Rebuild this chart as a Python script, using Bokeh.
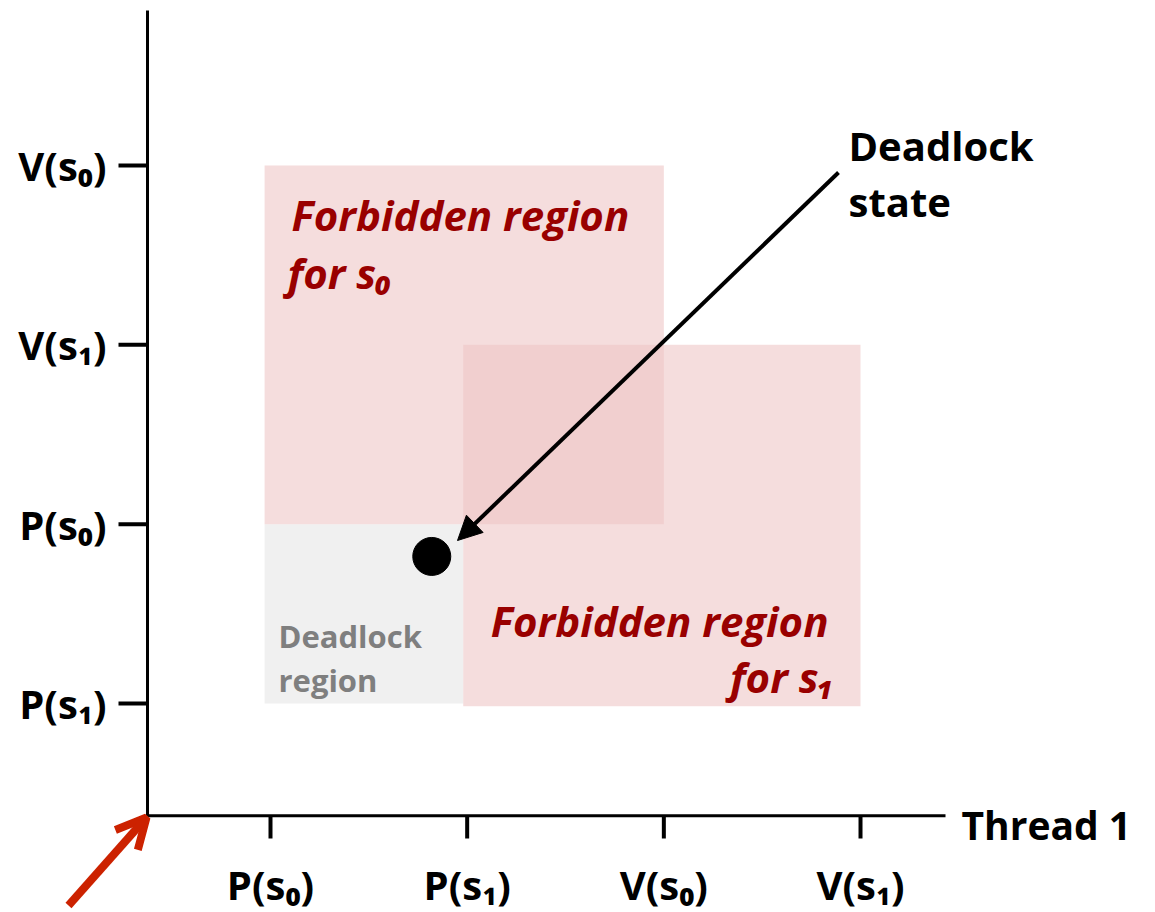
from bokeh.plotting import figure
from bokeh.models import Range1d, Arrow, NormalHead, OpenHead
from bokeh.core.properties import value
from bokeh.embed import file_html
from bokeh.resources import INLINE

# ---------------- data ----------------
x_ticks = [1, 2, 3, 4]
x_labels = ["P(s₀)", "P(s₁)", "V(s₀)", "V(s₁)"]
y_ticks = [1, 2, 3, 4]
y_labels = ["P(s₁)", "P(s₀)", "V(s₁)", "V(s₀)"]

region_left = [0.97, 1.98]
region_right = [3.0, 4.0]
region_bottom = [2.0, 0.985]
region_top = [4.0, 3.0]

deadlock_left = [0.97]
deadlock_right = [1.98]
deadlock_bottom = [1.0]
deadlock_top = [2.0]

deadlock_state_x = [1.82]
deadlock_state_y = [1.82]

# ---------------- layout helpers (pixel -> data) ----------------
W, H = 1155, 912
def X(px):
    return 1 + (px - 270) / 196.67
def Y(py):
    return 1 + (703 - py) / 179.33

origin = X(147)
x_axis_end = X(945)
y_axis_end = Y(10)

FONT = value("Open Sans")

p = figure(width=W, height=H, output_backend="svg", toolbar_location=None,
           x_range=Range1d(X(0), X(W)), y_range=Range1d(Y(H), Y(0)),
           x_axis_location=None, y_axis_location=None, min_border=0)
p.grid.visible = False
p.outline_line_color = None
p.background_fill_color = "white"

# deadlock region (gray)
p.quad(left=deadlock_left, right=deadlock_right, bottom=deadlock_bottom, top=deadlock_top,
       fill_color="#F0F0F0", line_color=None)
# forbidden regions (translucent pink, overlap darker)
p.quad(left=region_left, right=region_right, bottom=region_bottom, top=region_top,
       fill_color="#EEC6C6", fill_alpha=0.6, line_color=None)

# axes
p.line(x=[origin, origin, x_axis_end], y=[y_axis_end, origin, origin],
       line_color="black", line_width=3, line_join="miter")
p.segment(x0=x_ticks, y0=[origin] * 4, x1=x_ticks, y1=[Y(838)] * 4,
          line_color="black", line_width=4)
p.segment(x0=[X(118)] * 4, y0=y_ticks, x1=[origin] * 4, y1=y_ticks,
          line_color="black", line_width=4)

# tick labels
p.text(x=x_ticks, y=[Y(884)] * 4, text=x_labels, text_font=FONT, text_font_style="bold",
       text_font_size="40px", text_align="center", text_baseline="middle", text_color="black")
p.text(x=[X(106)] * 4, y=y_ticks, text=y_labels, text_font=FONT, text_font_style="bold",
       text_font_size="40px", text_align="right", text_baseline="middle", text_color="black")

p.text(x=[X(961)], y=[Y(824)], text=["Thread 1"], text_font=FONT, text_font_style="bold",
       text_font_size="39px", text_align="left", text_baseline="alphabetic", text_color="black")

# deadlock state point
p.scatter(x=deadlock_state_x, y=deadlock_state_y, size=38, color="black")

# annotation texts
p.text(x=[X(291), X(287)], y=[Y(214), Y(272)], text=["Forbidden region", "for s₀"],
       text_font=FONT, text_font_style="bold italic", text_font_size="42px",
       text_align="left", text_baseline="alphabetic", text_color="#990000")
p.text(x=[X(828), X(834)], y=[Y(620), Y(676)], text=["Forbidden region", "for s₁"],
       text_font=FONT, text_font_style="bold italic", text_font_size="42px",
       text_align="right", text_baseline="alphabetic", text_color="#990000")
p.text(x=[X(278), X(278)], y=[Y(635), Y(679)], text=["Deadlock", "region"],
       text_font=FONT, text_font_style="bold", text_font_size="31px",
       text_align="left", text_baseline="alphabetic", text_color="#7F7F7F")
p.text(x=[X(848), X(848)], y=[Y(145), Y(201)], text=["Deadlock", "state"],
       text_font=FONT, text_font_style="bold", text_font_size="40px",
       text_align="left", text_baseline="alphabetic", text_color="black")

# arrows
p.add_layout(Arrow(end=NormalHead(size=24, fill_color="black", line_color="black"),
                   x_start=X(838), y_start=Y(172), x_end=X(457), y_end=Y(540),
                   line_color="black", line_width=4))
p.add_layout(Arrow(end=OpenHead(size=30, line_color="#CC2200", line_width=8),
                   x_start=X(68), y_start=Y(905), x_end=X(146), y_end=Y(817),
                   line_color="#CC2200", line_width=8))

open("out.html", "w").write(file_html(p, INLINE))
